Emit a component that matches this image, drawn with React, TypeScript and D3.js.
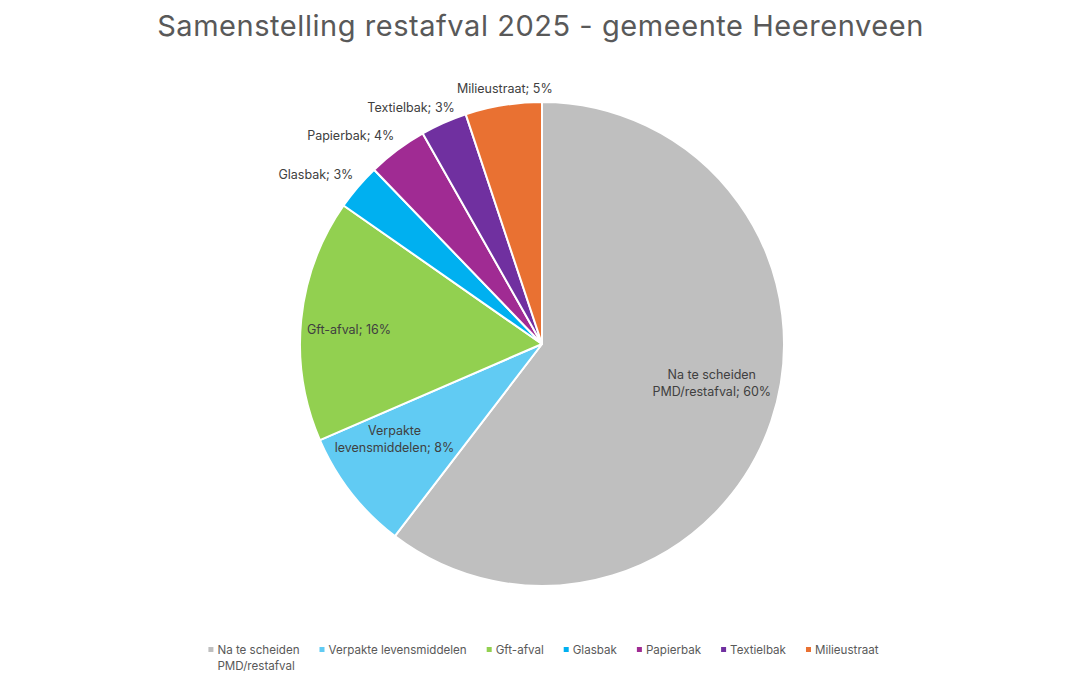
import React, { useMemo } from "react";
import * as d3 from "d3";

const W = 1081;
const H = 687;

const title = "Samenstelling restafval 2025 - gemeente Heerenveen";
const categories = [
  "Na te scheiden PMD/restafval",
  "Verpakte levensmiddelen",
  "Gft-afval",
  "Glasbak",
  "Papierbak",
  "Textielbak",
  "Milieustraat",
];
const values = [60.4, 8.1, 16.2, 3.1, 4.0, 3.1, 5.1];
const percentLabels = ["60%", "8%", "16%", "3%", "4%", "3%", "5%"];
const colors = ["#BFBFBF", "#61CBF3", "#92D050", "#00B0F0", "#A02B93", "#7030A0", "#E97132"];
const legendLines = [
  ["Na te scheiden", "PMD/restafval"],
  ["Verpakte levensmiddelen"],
  ["Gft-afval"],
  ["Glasbak"],
  ["Papierbak"],
  ["Textielbak"],
  ["Milieustraat"],
];
const insideSlices = [true, true, true, false, false, false, false];
// placement tweaks for the inside data labels (fraction of radius, angle shift in degrees)
const insideLabelRadius = [0.72, 0.725, 0.8];
const insideLabelShift = [-5.7, 5.2, -1.4];

const FONT = "Inter, 'Open Sans', sans-serif";

let ctx: CanvasRenderingContext2D | null = null;
function measure(text: string, size: number, family = FONT) {
  if (!ctx) ctx = document.createElement("canvas").getContext("2d");
  if (!ctx) return text.length * size * 0.55;
  ctx.font = `${size}px ${family}`;
  return ctx.measureText(text).width;
}

function wrap(text: string, maxW: number, size: number) {
  const words = text.split(" ");
  const lines: string[] = [];
  let cur = "";
  for (const w of words) {
    const t = cur ? cur + " " + w : w;
    if (cur && measure(t, size) > maxW) {
      lines.push(cur);
      cur = w;
    } else cur = t;
  }
  if (cur) lines.push(cur);
  return lines;
}

export default function App() {
  const cx = 542;
  const cy = 344;
  const r = 242;
  const labelSize = 12.5;
  const lineH = 17;

  const arcs = useMemo(() => {
    const pie = d3.pie<number>().sort(null).value((d) => d);
    return pie(values);
  }, []);
  const arcGen = d3.arc<d3.PieArcDatum<number>>().innerRadius(0).outerRadius(r);

  // legend layout
  const legendSize = 11.6;
  const itemWidths = legendLines.map((ls) => Math.max(...ls.map((l) => measure(l, legendSize))));
  const markerW = 5, markerGap = 4, itemGap = 20;
  const total = d3.sum(itemWidths) + itemWidths.length * (markerW + markerGap) + (itemWidths.length - 1) * itemGap;
  let lx = 543.5 - total / 2;
  const legendX: number[] = [];
  itemWidths.forEach((w) => {
    legendX.push(lx);
    lx += markerW + markerGap + w + itemGap;
  });
  const legendY = 654;

  return (
    <svg width={W} height={H} style={{ position: "absolute", left: 0, top: 0, background: "#fff" }} fontFamily={FONT}>
      <rect width={W} height={H} fill="#fff" />
      <text x={W / 2} y={36} textAnchor="middle" fontSize={29} letterSpacing={0.55} fill="#595959">
        {title}
      </text>
      <g transform={`translate(${cx},${cy})`}>
        {arcs.map((a, i) => (
          <path key={i} d={arcGen(a) || ""} fill={colors[i]} stroke="#fff" strokeWidth={2} strokeLinejoin="round" />
        ))}
        {arcs.map((a, i) => {
          const text = `${categories[i]}; ${percentLabels[i]}`;
          const mid = (a.startAngle + a.endAngle) / 2;
          if (insideSlices[i]) {
            const ang = mid + (insideLabelShift[i] * Math.PI) / 180;
            const rr = r * insideLabelRadius[i];
            const x = Math.sin(ang) * rr;
            const y = -Math.cos(ang) * rr;
            const lines = wrap(text, 125, labelSize);
            const y0 = y - ((lines.length - 1) * lineH) / 2 + 4.5;
            return (
              <text key={i} textAnchor="middle" fontSize={labelSize} fill="#404040">
                {lines.map((l, j) => (
                  <tspan key={j} x={x} y={y0 + j * lineH}>
                    {l}
                  </tspan>
                ))}
              </text>
            );
          }
          const s = Math.sin(mid);
          const c = Math.cos(mid);
          const px = s * (r + 10) + (s < 0 ? 3 : -3);
          const py = -c * (r + 10);
          const w = measure(text, labelSize);
          const f = 0.5 + 0.5 * Math.max(0, Math.min(1, (Math.abs(s) - 0.16) / 0.34));
          const x = s < 0 ? px - f * w : px - (1 - f) * w;
          const yc = py - 3 - 4 * Math.abs(c);
          return (
            <text key={i} x={x} y={yc + 4.5} fontSize={labelSize} fill="#404040">
              {text}
            </text>
          );
        })}
      </g>
      <g>
        {legendLines.map((ls, i) => (
          <g key={i}>
            <rect x={legendX[i]} y={legendY - 7} width={markerW} height={markerW} fill={colors[i]} />
            <text fontSize={legendSize} fill="#595959">
              {ls.map((l, j) => (
                <tspan key={j} x={legendX[i] + markerW + markerGap} y={legendY + j * 16}>
                  {l}
                </tspan>
              ))}
            </text>
          </g>
        ))}
      </g>
    </svg>
  );
}
